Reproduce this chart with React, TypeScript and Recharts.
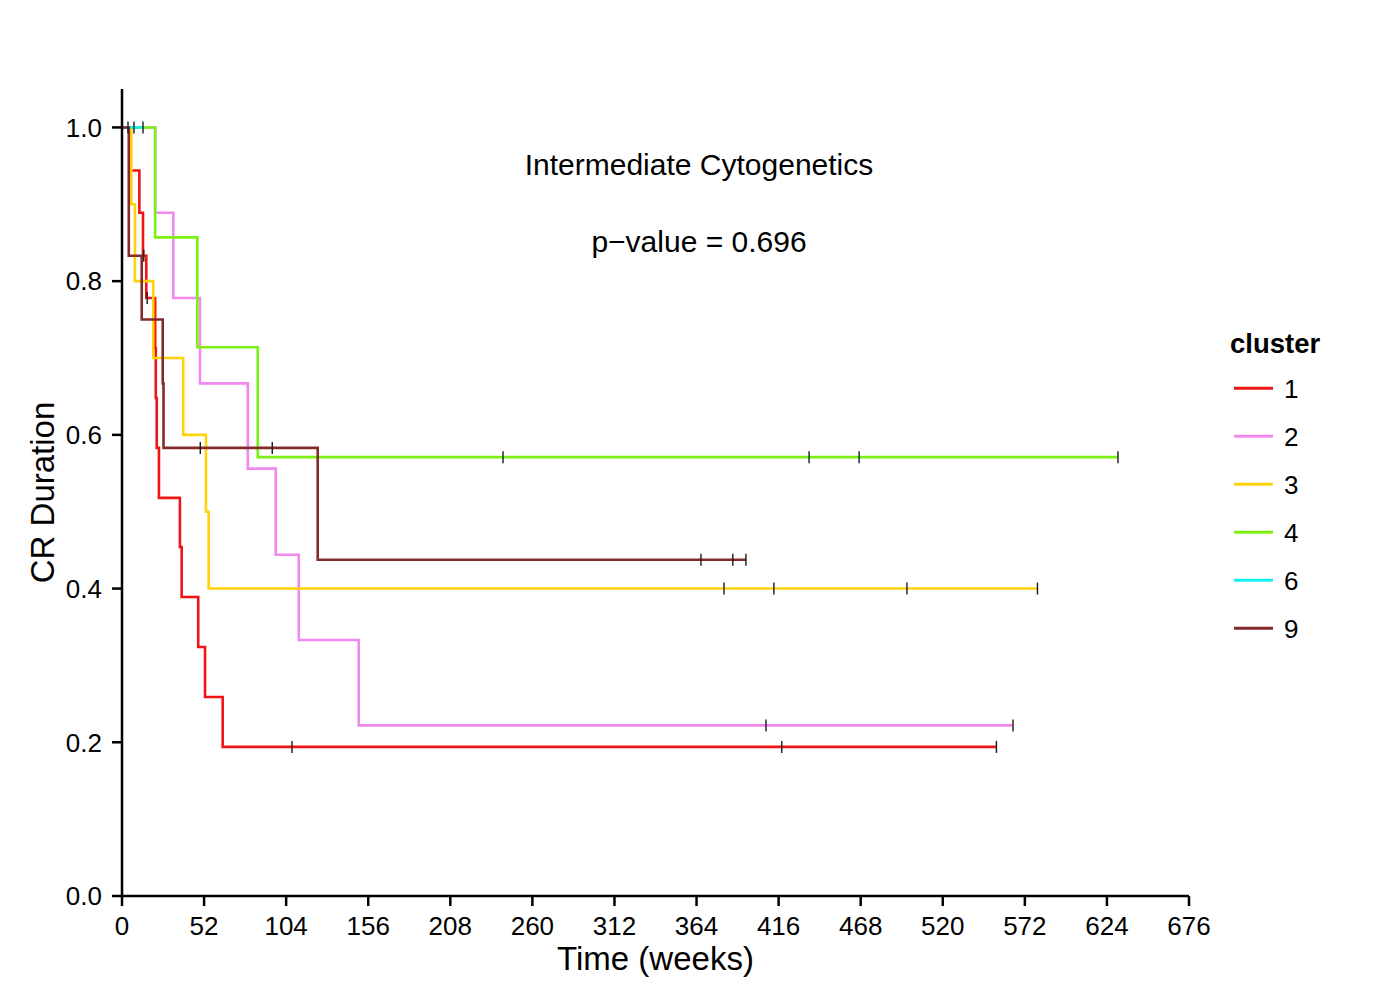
import { ComposedChart, Line, Scatter, XAxis, YAxis } from "recharts";

const FONT = '"Liberation Sans", Arial, Helvetica, sans-serif';

// x axis ticks (weeks) and y axis ticks
const xTicks = [0, 52, 104, 156, 208, 260, 312, 364, 416, 468, 520, 572, 624, 676];
const yTicks = [0, 0.2, 0.4, 0.6, 0.8, 1.0];

const clusterNames = ["1", "2", "3", "4", "6", "9"];
const clusterColors = ["#f01414", "#f088ee", "#ffd20a", "#7cf012", "#10f0f4", "#832b2b"];

// Kaplan-Meier step points per cluster (time in weeks, survival)
const c1Time = [0, 5, 11, 13.3, 15.4, 21, 21.4, 22, 23.4, 36.7, 37.8, 48.3, 52.6, 63.8, 554];
const c1Surv = [1, 0.944, 0.889, 0.833, 0.778, 0.713, 0.648, 0.583, 0.518, 0.454, 0.389, 0.324, 0.259, 0.194, 0.194];
const c1CensTime = [16, 107.7, 418, 554];
const c1CensSurv = [0.778, 0.194, 0.194, 0.194];

const c2Time = [0, 21, 32.5, 49.4, 79.7, 97.4, 112, 150, 564.5];
const c2Surv = [1, 0.889, 0.778, 0.667, 0.556, 0.444, 0.333, 0.222, 0.222];
const c2CensTime = [408, 564.5];
const c2CensSurv = [0.222, 0.222];

const c3Time = [0, 5.9, 8.2, 19.8, 38.8, 53.2, 54.9, 580];
const c3Surv = [1, 0.9, 0.8, 0.7, 0.6, 0.5, 0.4, 0.4];
const c3CensTime = [381.4, 413, 497.3, 580];
const c3CensSurv = [0.4, 0.4, 0.4, 0.4];

const c4Time = [0, 21, 47.7, 86, 631];
const c4Surv = [1, 0.857, 0.714, 0.571, 0.571];
const c4CensTime = [241.4, 435.3, 467, 631];
const c4CensSurv = [0.571, 0.571, 0.571, 0.571];

const c6Time = [0, 13.3];
const c6Surv = [1, 1];
const c6CensTime = [3.8, 7.6, 13.3];
const c6CensSurv = [1, 1, 1];

const c9Time = [0, 4.3, 12.5, 25.8, 26.3, 124, 395.3];
const c9Surv = [1, 0.833, 0.75, 0.667, 0.583, 0.4375, 0.4375];
const c9CensTime = [13.8, 49.6, 95.2, 366.8, 387, 395.3];
const c9CensSurv = [0.833, 0.583, 0.583, 0.4375, 0.4375, 0.4375];

const toPoints = (t: number[], s: number[]) => t.map((x, i) => ({ t: x, s: s[i] }));

const curves = [
  toPoints(c1Time, c1Surv),
  toPoints(c2Time, c2Surv),
  toPoints(c3Time, c3Surv),
  toPoints(c4Time, c4Surv),
  toPoints(c6Time, c6Surv),
  toPoints(c9Time, c9Surv),
];
const censored = [
  toPoints(c1CensTime, c1CensSurv),
  toPoints(c2CensTime, c2CensSurv),
  toPoints(c3CensTime, c3CensSurv),
  toPoints(c4CensTime, c4CensSurv),
  toPoints(c6CensTime, c6CensSurv),
  toPoints(c9CensTime, c9CensSurv),
];

const CensorMark = (props: any) => {
  const { cx, cy } = props;
  if (cx == null || cy == null) return null;
  return <line x1={cx} x2={cx} y1={cy - 6} y2={cy + 6} stroke="#1a1a1a" strokeWidth={1.4} />;
};

const YLabel = (props: any) => {
  const vb = props.viewBox || { x: 0, y: 89, width: 122, height: 807 };
  const cx = vb.x + 42;
  const cy = vb.y + vb.height / 2;
  return (
    <text
      x={cx}
      y={cy}
      transform={`rotate(-90 ${cx} ${cy})`}
      textAnchor="middle"
      dominantBaseline="central"
      fontSize={33}
      fontFamily={FONT}
      fill="#000"
    >
      CR Duration
    </text>
  );
};

function App() {
  return (
    <div
      style={{
        position: "absolute",
        left: 0,
        top: 0,
        width: 1400,
        height: 1000,
        background: "#fff",
        fontFamily: FONT,
      }}
    >
      <ComposedChart width={1400} height={1000} margin={{ top: 89, right: 211, bottom: 24, left: 0 }}>
        <XAxis
          type="number"
          dataKey="t"
          domain={[0, 676]}
          ticks={xTicks}
          interval={0}
          allowDataOverflow
          height={80}
          tickSize={10}
          tickMargin={11}
          axisLine={{ stroke: "#000", strokeWidth: 2.5 }}
          tickLine={{ stroke: "#000", strokeWidth: 2.5 }}
          tick={{ fill: "#000", fontSize: 26, fontFamily: FONT }}
          label={{
            value: "Time (weeks)",
            position: "insideBottom",
            offset: 6,
            fill: "#000",
            fontSize: 33,
            fontFamily: FONT,
          }}
        />
        <YAxis
          type="number"
          dataKey="s"
          domain={[0, 1.05]}
          ticks={yTicks}
          interval={0}
          allowDataOverflow
          width={122}
          tickSize={10}
          tickMargin={10}
          tickFormatter={(v: number) => v.toFixed(1)}
          axisLine={{ stroke: "#000", strokeWidth: 2.5 }}
          tickLine={{ stroke: "#000", strokeWidth: 2.5 }}
          tick={{ fill: "#000", fontSize: 26, fontFamily: FONT }}
          label={<YLabel />}
        />
        {curves.map((pts, i) => (
          <Line
            key={`curve-${clusterNames[i]}`}
            data={pts}
            dataKey="s"
            type="stepAfter"
            stroke={clusterColors[i]}
            strokeWidth={2.6}
            dot={false}
            activeDot={false}
            isAnimationActive={false}
          />
        ))}
        {censored.map((pts, i) => (
          <Scatter
            key={`cens-${clusterNames[i]}`}
            data={pts}
            dataKey="s"
            shape={CensorMark}
            isAnimationActive={false}
          />
        ))}
      </ComposedChart>

      <div
        style={{
          position: "absolute",
          left: 449,
          top: 150,
          width: 500,
          textAlign: "center",
          fontSize: 30,
          lineHeight: "30px",
          color: "#000",
        }}
      >
        Intermediate Cytogenetics
      </div>
      <div
        style={{
          position: "absolute",
          left: 449,
          top: 227,
          width: 500,
          textAlign: "center",
          fontSize: 30,
          lineHeight: "30px",
          color: "#000",
        }}
      >
        p−value = 0.696
      </div>

      <svg
        width={200}
        height={340}
        style={{ position: "absolute", left: 1220, top: 320, overflow: "visible" }}
      >
        <text x={10} y={33} fontSize={27.5} fontWeight="bold" fontFamily={FONT} fill="#000">
          cluster
        </text>
        {clusterNames.map((name, i) => {
          const cy = 68.3 + 48 * i;
          return (
            <g key={`leg-${name}`}>
              <line x1={14} x2={53} y1={cy} y2={cy} stroke={clusterColors[i]} strokeWidth={3} />
              <text x={64} y={cy + 9.5} fontSize={26} fontFamily={FONT} fill="#000">
                {name}
              </text>
            </g>
          );
        })}
      </svg>
    </div>
  );
}

export default App;
